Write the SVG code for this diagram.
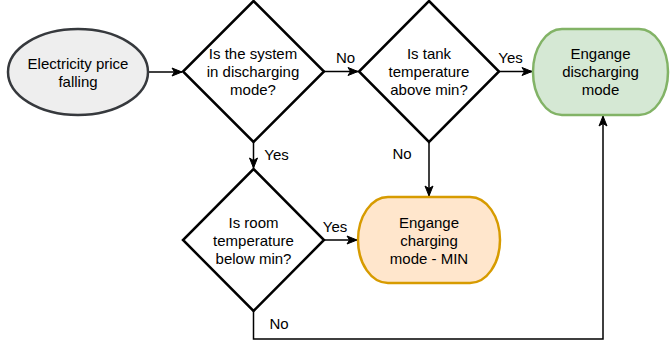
<svg xmlns="http://www.w3.org/2000/svg" width="670" height="345" viewBox="0 0 670 345">
  <defs>
    <marker id="arr" markerUnits="userSpaceOnUse" markerWidth="12" markerHeight="10" refX="11" refY="5" orient="auto">
      <path d="M1,1 L11,5 L1,9 L3.5,5 Z" fill="#000" stroke="#000" stroke-width="1"/>
    </marker>
    <style>
      text { font-family: "Liberation Sans", Arial, Helvetica, sans-serif; font-size: 15px; fill: #000; text-anchor: middle; }
      .dec { fill: #ffffff; stroke: #000000; stroke-width: 2.5; stroke-linejoin: miter; }
      .start { fill: #eeeeee; stroke: #36393d; stroke-width: 2.5; }
      .green { fill: #d5e8d4; stroke: #82b366; stroke-width: 2.5; }
      .orange { fill: #ffe6cc; stroke: #d79b00; stroke-width: 2.5; }
      .edge { fill: none; stroke: #000; stroke-width: 1.5; marker-end: url(#arr); }
    </style>
  </defs>

  <g id="connectors">
    <path class="edge" d="M148,72 L182,72"/>
    <path class="edge" d="M324,71.5 L358,71.5"/>
    <path class="edge" d="M499,71.5 L532,71.5"/>
    <path class="edge" d="M253.5,142 L253.5,168"/>
    <path class="edge" d="M429,142 L429,196"/>
    <path class="edge" d="M324,240 L357,240"/>
    <path class="edge" d="M253.5,311 L253.5,339 L603,339 L603,116"/>
    <text x="345.5" y="62.5">No</text>
    <text x="510.5" y="62.5">Yes</text>
    <text x="276.5" y="159.5">Yes</text>
    <text x="402" y="159">No</text>
    <text x="335" y="232">Yes</text>
    <text x="279" y="329">No</text>
  </g>

  <g id="start">
    <ellipse class="start" cx="78" cy="72" rx="70" ry="43"/>
    <text x="78" y="69">Electricity price</text>
    <text x="78" y="87">falling</text>
  </g>

  <g id="q-discharging">
    <polygon class="dec" points="253.5,1 324,71.5 253.5,142 183,71.5"/>
    <text x="253" y="59">Is the system</text>
    <text x="253" y="77">in discharging</text>
    <text x="253" y="95">mode?</text>
  </g>

  <g id="q-tank">
    <polygon class="dec" points="429,1 499,71.5 429,142 359,71.5"/>
    <text x="429" y="59">Is tank</text>
    <text x="429" y="77">temperature</text>
    <text x="429" y="95">above min?</text>
  </g>

  <g id="q-room">
    <polygon class="dec" points="253.5,169 324,240 253.5,311 183,240"/>
    <text x="253.5" y="228">Is room</text>
    <text x="253.5" y="246">temperature</text>
    <text x="253.5" y="264">below min?</text>
  </g>

  <g id="discharging">
    <rect class="green" x="533" y="29" width="135" height="86" rx="29" ry="43"/>
    <text x="600.5" y="59">Engange</text>
    <text x="600.5" y="77">discharging</text>
    <text x="600.5" y="95">mode</text>
  </g>

  <g id="charging-min">
    <rect class="orange" x="358" y="197" width="142" height="86" rx="30" ry="43"/>
    <text x="429" y="228">Engange</text>
    <text x="429" y="246">charging</text>
    <text x="429" y="264">mode - MIN</text>
  </g>
</svg>
